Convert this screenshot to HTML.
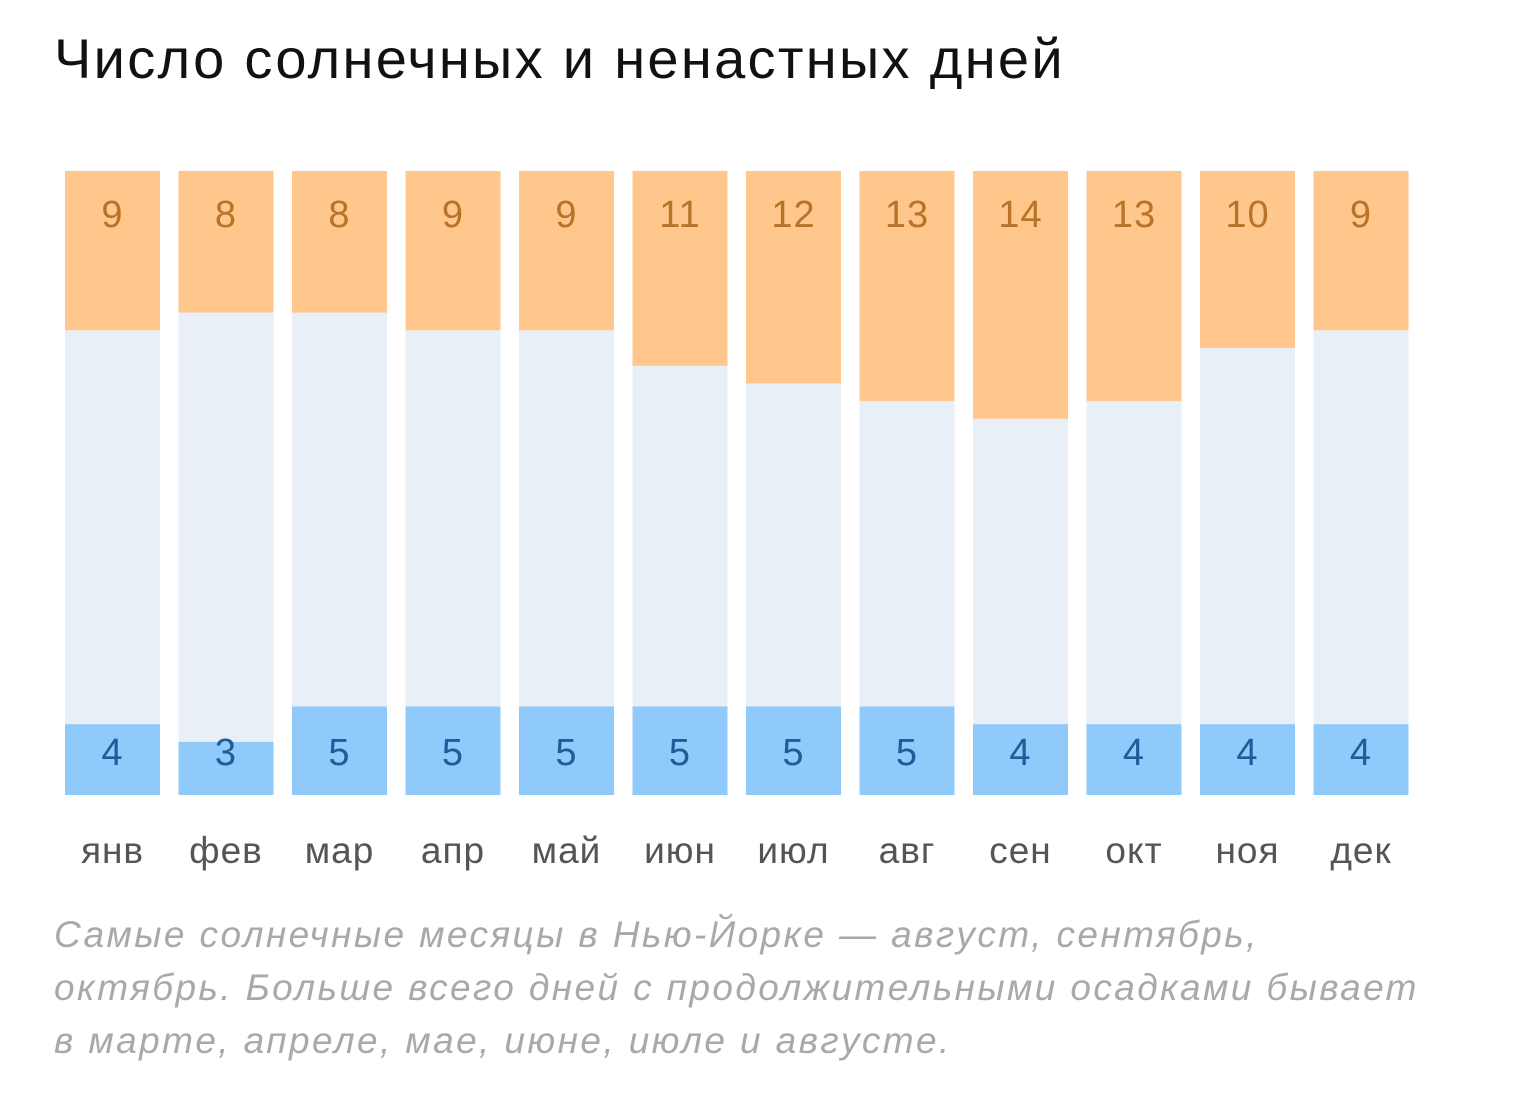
<!DOCTYPE html>
<html><head><meta charset="utf-8"><style>
body{margin:0;background:#fff;width:1536px;height:1108px;overflow:hidden;font-family:"Liberation Sans",sans-serif}
#title{position:absolute;left:54px;top:26px;font-size:56px;letter-spacing:2.3px;color:#111;margin:0;font-weight:normal;white-space:nowrap}
#caption{position:absolute;left:54px;top:908px;font-size:37px;letter-spacing:2.4px;line-height:53px;color:#a9a9a9;font-style:italic;white-space:nowrap}
svg{position:absolute;left:0;top:0}
svg text{letter-spacing:1px}
</style></head><body>
<h1 id="title">Число солнечных и ненастных дней</h1>
<svg id="chart" width="1536" height="900"></svg>
<div id="caption">Самые солнечные месяцы в Нью-Йорке — август, сентябрь,<br>октябрь. Больше всего дней с продолжительными осадками бывает<br>в марте, апреле, мае, июне, июле и августе.</div>
<script>
const months=["янв","фев","мар","апр","май","июн","июл","авг","сен","окт","ноя","дек"];
const sunny=[9,8,8,9,9,11,12,13,14,13,10,9];
const rainy=[4,3,5,5,5,5,5,5,4,4,4,4];
const NS="http://www.w3.org/2000/svg";
const svg=document.getElementById('chart');
const top0=171,bottom0=795,unit=17.7,x0=65,pitch=113.5,bw=95;
const xs=i=>x0+i*pitch;
const h=v=>v*unit;
function mk(tag,attrs,txt){const e=document.createElementNS(NS,tag);for(const k in attrs)e.setAttribute(k,attrs[k]);if(txt!==undefined)e.textContent=txt;svg.appendChild(e);return e;}
months.forEach((m,i)=>{
  const x=xs(i);
  let e=mk('rect',{x:x,y:top0,width:bw,height:bottom0-top0,fill:'#e8eff7'});
  
  
  e=mk('rect',{x:x,y:top0,width:bw,height:h(sunny[i]),fill:'#ffc78c'});
  
  
  e=mk('rect',{x:x,y:bottom0-h(rainy[i]),width:bw,height:h(rainy[i]),fill:'#90cafa'});
  
  
  e=mk('text',{x:x+bw/2,y:227,'text-anchor':'middle','font-size':38,fill:'#b87328'},sunny[i]);
  
  
  e=mk('text',{x:x+bw/2,y:765,'text-anchor':'middle','font-size':38,fill:'#1d5d99'},rainy[i]);
  
  
  e=mk('text',{x:x+bw/2,y:863,'text-anchor':'middle','font-size':37,fill:'#555'},m);
  
  
});
</script>
</body></html>
